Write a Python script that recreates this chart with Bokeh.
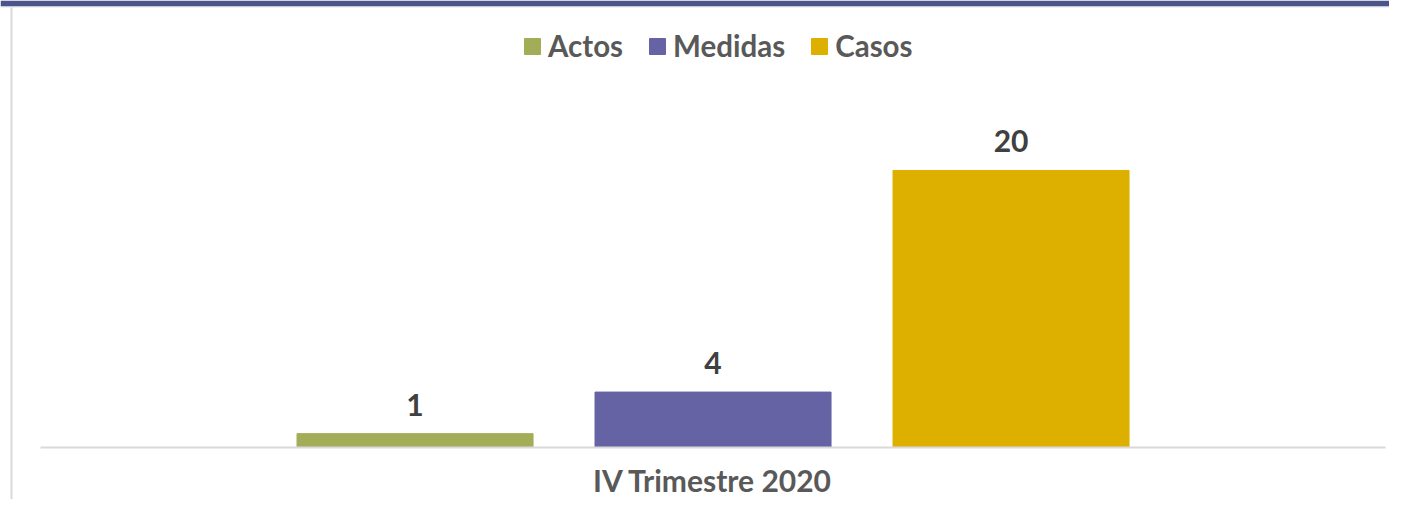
from bokeh.plotting import figure
from bokeh.models import (ColumnDataSource, Range1d, FixedTicker, Legend,
                          LegendItem, LabelSet, BoxAnnotation)
from bokeh.core.properties import value
from bokeh.embed import file_html
from bokeh.resources import INLINE

category = "IV Trimestre 2020"
series = ["Actos", "Medidas", "Casos"]
values = [1, 4, 20]
colors = ["#a3ad58", "#6563a3", "#ddb000"]

xs = list(range(len(series)))
center = (len(series) - 1) / 2
src = ColumnDataSource(dict(x=xs, top=values, name=series, color=colors,
                            label=[str(v) for v in values]))

p = figure(width=1389, height=499, output_backend="svg", toolbar_location=None,
           x_range=Range1d(-1.391, 3.270), y_range=Range1d(-3.755, 32.27),
           min_border_left=0, min_border_right=0, min_border_top=0,
           min_border_bottom=0)
p.outline_line_color = None
p.grid.visible = False
p.yaxis.visible = False
p.background_fill_color = "white"
p.border_fill_color = "white"

r = p.vbar(x="x", top="top", width=0.792, bottom=0, color="color", source=src)

labels = LabelSet(x="x", y="top", text="label", source=src, y_offset=18,
                  text_align="center", text_baseline="bottom",
                  text_font=value("Lato"), text_font_style=value("bold"),
                  text_font_size=value("30px"), text_color=value("#404040"))
p.add_layout(labels)

ax = p.xaxis[0]
ax.fixed_location = 0
ax.bounds = (-1.2567, 3.2567)
ax.ticker = FixedTicker(ticks=[center])
ax.major_label_overrides = {center: category}
ax.major_tick_in = 0
ax.major_tick_out = 0
ax.minor_tick_in = 0
ax.minor_tick_out = 0
ax.axis_line_color = "#d9d9d9"
ax.axis_line_width = 2
ax.major_label_standoff = 15
ax.major_label_text_font = "Lato"
ax.major_label_text_font_style = "bold"
ax.major_label_text_font_size = "30px"
ax.major_label_text_color = "#595959"

items = [LegendItem(label=s, renderers=[r], index=i) for i, s in enumerate(series)]
legend = Legend(items=items, orientation="horizontal", location=(522, 436),
                glyph_width=20, glyph_height=20, label_standoff=6, spacing=24,
                label_text_font="Lato", label_text_font_style="bold",
                label_text_font_size="29.5px", label_text_color="#595959",
                border_line_color=None, background_fill_alpha=0,
                margin=0, padding=10)
p.add_layout(legend)

top_bar = BoxAnnotation(left=0, right=1389, top=0, bottom=6,
                        left_units="canvas", right_units="canvas",
                        top_units="canvas", bottom_units="canvas",
                        fill_color="#4b5589", fill_alpha=1, line_color=None,
                        level="overlay")
top_edge = BoxAnnotation(left=0, right=1389, top=6, bottom=7,
                         left_units="canvas", right_units="canvas",
                         top_units="canvas", bottom_units="canvas",
                         fill_color="#e4e5ee", fill_alpha=1, line_color=None,
                         level="overlay")
left_line = BoxAnnotation(left=10, right=12, top=7, bottom=499,
                          left_units="canvas", right_units="canvas",
                          top_units="canvas", bottom_units="canvas",
                          fill_color="#d9d9d9", fill_alpha=1, line_color=None,
                          level="overlay")
p.add_layout(top_bar)
p.add_layout(top_edge)
p.add_layout(left_line)

open("out.html", "w").write(file_html(p, INLINE))
